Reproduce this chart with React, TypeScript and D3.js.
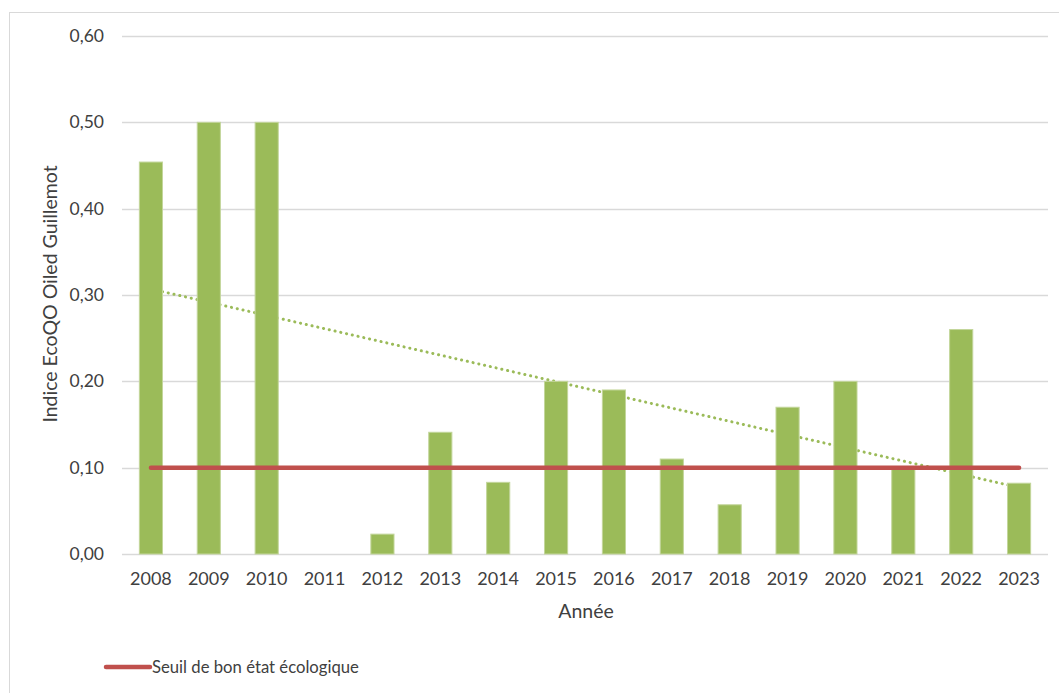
import React, { useEffect, useRef } from 'react';
import * as d3 from 'd3';

const years = ['2008', '2009', '2010', '2011', '2012', '2013', '2014', '2015', '2016', '2017', '2018', '2019', '2020', '2021', '2022', '2023'];
const indexValues = [0.454, 0.5, 0.5, 0, 0.023, 0.141, 0.083, 0.2, 0.19, 0.11, 0.057, 0.17, 0.2, 0.1, 0.26, 0.082];
const threshold = 0.1;
// linear trend endpoints (first year, last year)
const trendEnds = [0.307, 0.077];
const yTicks = [0, 0.1, 0.2, 0.3, 0.4, 0.5, 0.6];

const FONT = 'Lato, "Open Sans", sans-serif';

export default function App() {
  const svgRef = useRef<SVGSVGElement>(null);

  useEffect(() => {
    if (!svgRef.current) return;
    const svg = d3.select(svgRef.current);
    svg.selectAll('*').remove();

    const W = 1059;
    const H = 693;
    const margin = { top: 36, right: 11, bottom: 139, left: 122 };
    const width = W - margin.left - margin.right;
    const height = H - margin.top - margin.bottom;

    // outer chart frame
    svg.append('rect')
      .attr('x', 9.5).attr('y', 12.5)
      .attr('width', W + 10).attr('height', H + 10)
      .attr('fill', '#fff').attr('stroke', '#d9d9d9');

    const g = svg.append('g').attr('transform', `translate(${margin.left},${margin.top})`);

    const x = d3.scaleBand().domain(years).range([0, width]).paddingInner(0.6).paddingOuter(0.3);
    const y = d3.scaleLinear().domain([0, 0.6]).range([height, 0]);
    const cx = (yr: string) => (x(yr) || 0) + x.bandwidth() / 2;

    // gridlines
    g.selectAll('.grid')
      .data(yTicks)
      .enter()
      .append('line')
      .attr('x1', 0).attr('x2', width)
      .attr('y1', (d) => Math.round(y(d)) + 0.5).attr('y2', (d) => Math.round(y(d)) + 0.5)
      .attr('stroke', '#d9d9d9').attr('stroke-width', 1.3);

    // y labels
    g.selectAll('.ylab')
      .data(yTicks)
      .enter()
      .append('text')
      .attr('x', -18).attr('y', (d) => y(d))
      .attr('dy', '0.35em')
      .attr('text-anchor', 'end')
      .style('font-family', FONT).style('font-size', '17.5px').style('fill', '#404040')
      .text((d) => d3.format('.2f')(d).replace('.', ','));

    // trend line (behind bars)
    g.append('line')
      .attr('x1', cx(years[0])).attr('y1', y(trendEnds[0]))
      .attr('x2', cx(years[years.length - 1])).attr('y2', y(trendEnds[1]))
      .attr('stroke', '#9BBB59').attr('stroke-width', 3)
      .attr('stroke-dasharray', '0.1,5.8').attr('stroke-linecap', 'round');

    // bars
    g.selectAll('.bar')
      .data(indexValues)
      .enter()
      .append('rect')
      .attr('x', (_, i) => x(years[i]) || 0)
      .attr('y', (d) => y(d))
      .attr('width', x.bandwidth())
      .attr('height', (d) => height - y(d))
      .attr('fill', '#9BBB59')
      .attr('stroke', (d) => (d > 0 ? '#c3d69b' : 'none'))
      .attr('stroke-width', 1);

    // threshold
    g.append('line')
      .attr('x1', cx(years[0])).attr('x2', cx(years[years.length - 1]))
      .attr('y1', y(threshold)).attr('y2', y(threshold))
      .attr('stroke', '#C0504D').attr('stroke-width', 4.5).attr('stroke-linecap', 'round');

    // x labels
    g.selectAll('.xlab')
      .data(years)
      .enter()
      .append('text')
      .attr('x', (d) => cx(d)).attr('y', height + 31)
      .attr('text-anchor', 'middle')
      .style('font-family', FONT).style('font-size', '18px').style('fill', '#404040')
      .text((d) => d);

    // axis titles
    g.append('text')
      .attr('x', width / 2 + 1).attr('y', height + 64)
      .attr('text-anchor', 'middle')
      .style('font-family', FONT).style('font-size', '19.5px').style('fill', '#404040')
      .text('Année');

    g.append('text')
      .attr('transform', `translate(${-65},${height / 2 - 1}) rotate(-90)`)
      .attr('text-anchor', 'middle')
      .style('font-family', FONT).style('font-size', '19.5px').style('fill', '#404040')
      .text('Indice EcoQO Oiled Guillemot');

    // legend
    const legend = svg.append('g').attr('transform', 'translate(106,667)');
    legend.append('line')
      .attr('x1', 0).attr('x2', 44).attr('y1', 0).attr('y2', 0)
      .attr('stroke', '#C0504D').attr('stroke-width', 4.5).attr('stroke-linecap', 'round');
    legend.append('text')
      .attr('x', 46).attr('y', 0).attr('dy', '0.35em')
      .style('font-family', FONT).style('font-size', '16.7px').style('fill', '#404040')
      .text('Seuil de bon état écologique');
  }, []);

  return (
    <div style={{ position: 'fixed', left: 0, top: 0, background: '#fff' }}>
      <svg ref={svgRef} width={1059} height={693} style={{ display: 'block' }}></svg>
    </div>
  );
}
